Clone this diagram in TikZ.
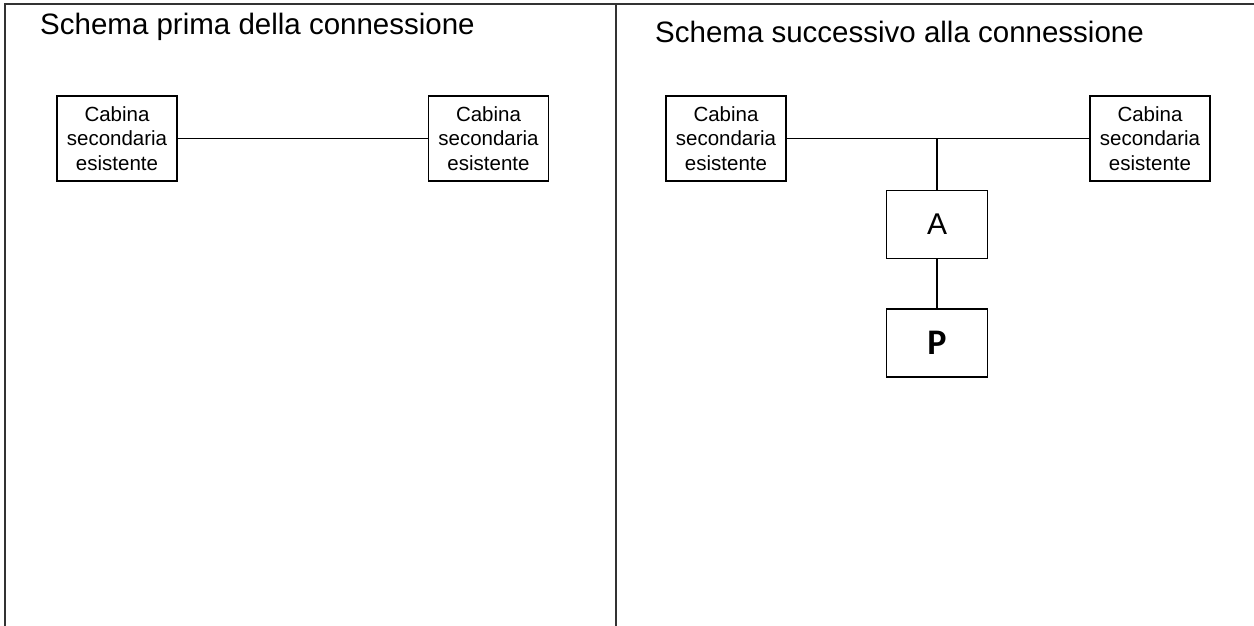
\documentclass[tikz,border=0pt]{standalone}
\usepackage{fontspec}
\setmainfont{Liberation Sans}
\newfontfamily\calfont{Carlito}
\begin{document}
\begin{tikzpicture}[x=1pt,y=-1pt,
  frame/.style={draw=black!80,line width=1.8pt},
  cabina/.style={draw=black,line width=1.5pt,minimum width=120pt,minimum height=85pt,inner sep=0pt,align=center,
    font=\fontsize{20.5}{24.5}\selectfont},
  letterbox/.style={draw=black,line width=1.5pt,minimum width=101pt,minimum height=68pt,inner sep=0pt},
  link/.style={draw=black,line width=1.5pt},
  title/.style={anchor=base west,inner sep=0pt,font=\fontsize{29.5}{33}\selectfont}]
\useasboundingbox (0,0) rectangle (1254,626);
\fill[white] (0,0) rectangle (1254,626);
% frame
\draw[frame] (5,626) -- (5,4) -- (1254,4);
\draw[frame] (616,4) -- (616,626);
% titles
\node[title] (t1) at (40,35) {Schema prima della connessione};
\node[title] (t2) at (655,43) {Schema successivo alla connessione};
% left scheme
\node[cabina] (l1) at (117,138.5) {Cabina\\secondaria\\esistente};
\node[cabina] (l2) at (488.5,138.5) {Cabina\\secondaria\\esistente};
\draw[link] (l1) -- (l2);
% right scheme
\node[cabina] (r1) at (726,138.5) {Cabina\\secondaria\\esistente};
\node[cabina] (r2) at (1150,138.5) {Cabina\\secondaria\\esistente};
\draw[link] (r1) -- (r2);
\coordinate (j) at (937,139);
\node[letterbox,font=\fontsize{30}{32}\selectfont] (A) at (937,224.5) {A};
\node[letterbox,font=\calfont\bfseries\fontsize{36}{38}\selectfont] (P) at (937,343) {P};
\draw[link] (j) -- (A);
\draw[link] (A) -- (P);
\end{tikzpicture}
\end{document}
